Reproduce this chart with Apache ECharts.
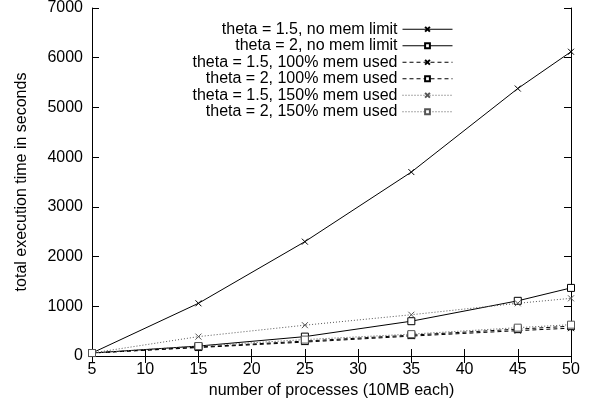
<!DOCTYPE html>
<html>
<head>
<meta charset="utf-8">
<script src="https://cdn.jsdelivr.net/npm/echarts@6/dist/echarts.min.js"></script>
<style>
html,body{margin:0;padding:0;background:#fff;}
#chart{width:589px;height:405px;}
</style>
</head>
<body>
<div id="chart"></div>
<script>
// number of processes
var procs = [5, 15, 25, 35, 45, 50];
// total execution time in seconds
var t15NoLimit = [60, 1060, 2300, 3700, 5380, 6120];
var t2NoLimit = [60, 200, 390, 700, 1110, 1370];
var t15Mem100 = [60, 170, 280, 400, 510, 560];
var t2Mem100 = [60, 180, 300, 420, 540, 600];
var t15Mem150 = [60, 390, 620, 830, 1060, 1160];
var t2Mem150 = [60, 200, 330, 440, 570, 630];
var seriesNames = ['theta = 1.5, no mem limit', 'theta = 2, no mem limit',
    'theta = 1.5, 100% mem used', 'theta = 2, 100% mem used',
    'theta = 1.5, 150% mem used', 'theta = 2, 150% mem used'];

var crossSym = 'path://M0,0L10,10M10,0L0,10';
var fontName = 'Liberation Sans';

function pairs(ys){
    var list = [];
    for (var i = 0; i < procs.length; i++) {
        list.push([procs[i], ys[i]]);
    }
    return list;
}

function mkSeries(name, ys, sym, lineType, col){
    var isCross = sym == 'cross';
    return {
        name: name,
        type: 'line',
        data: pairs(ys),
        symbol: isCross ? crossSym : 'rect',
        symbolSize: isCross ? 6 : 7,
        showAllSymbol: true,
        lineStyle: {color: col, width: 1, type: lineType},
        itemStyle: {color: isCross ? 'none' : '#fff', borderColor: col, borderWidth: 1},
        emphasis: {disabled: true},
        animation: false
    };
}

var axisLineBlack = {show: true, lineStyle: {color: '#000', width: 1}};
var tickIn = {show: true, inside: true, length: 7, lineStyle: {color: '#000'}};

var myChart = echarts.init(document.getElementById('chart'));
myChart.setOption({
    animation: false,
    backgroundColor: '#fff',
    textStyle: {fontFamily: fontName},
    grid: {left: 92, right: 18, top: 7, bottom: 49},
    legend: {
        orient: 'vertical',
        align: 'right',
        right: 131,
        top: 16,
        itemWidth: 50,
        itemHeight: 6,
        itemGap: 0,
        lineStyle: {width: 1},
        textStyle: {fontFamily: fontName, fontSize: 16, color: '#000', lineHeight: 16.5},
        data: seriesNames
    },
    xAxis: [
        {
            type: 'value', min: 5, max: 50, interval: 5,
            name: 'number of processes (10MB each)',
            nameLocation: 'middle', nameGap: 26,
            nameTextStyle: {fontSize: 16, color: '#000'},
            axisLine: axisLineBlack, axisTick: tickIn,
            axisLabel: {fontSize: 16, color: '#000', margin: 6},
            splitLine: {show: false}
        },
        {
            type: 'value', min: 5, max: 50, interval: 5, position: 'top',
            axisLine: axisLineBlack, axisTick: tickIn,
            axisLabel: {show: false}, splitLine: {show: false}
        }
    ],
    yAxis: [
        {
            type: 'value', min: 0, max: 7000, interval: 1000,
            name: 'total execution time in seconds',
            nameLocation: 'middle', nameGap: 62, nameRotate: 90,
            nameTextStyle: {fontSize: 16, color: '#000'},
            axisLine: axisLineBlack, axisTick: tickIn,
            axisLabel: {fontSize: 16, color: '#000', margin: 9, formatter: function (v) { return String(v); }},
            splitLine: {show: false}
        },
        {
            type: 'value', min: 0, max: 7000, interval: 1000, position: 'right',
            axisLine: axisLineBlack, axisTick: tickIn,
            axisLabel: {show: false}, splitLine: {show: false}
        }
    ],
    series: [
        mkSeries(seriesNames[0], t15NoLimit, 'cross', 'solid', '#000'),
        mkSeries(seriesNames[1], t2NoLimit, 'square', 'solid', '#000'),
        mkSeries(seriesNames[2], t15Mem100, 'cross', [4, 3], '#000'),
        mkSeries(seriesNames[3], t2Mem100, 'square', [4, 3], '#000'),
        mkSeries(seriesNames[4], t15Mem150, 'cross', [1, 2], '#555'),
        mkSeries(seriesNames[5], t2Mem150, 'square', [1, 2], '#555')
    ]
});
</script>
</body>
</html>
